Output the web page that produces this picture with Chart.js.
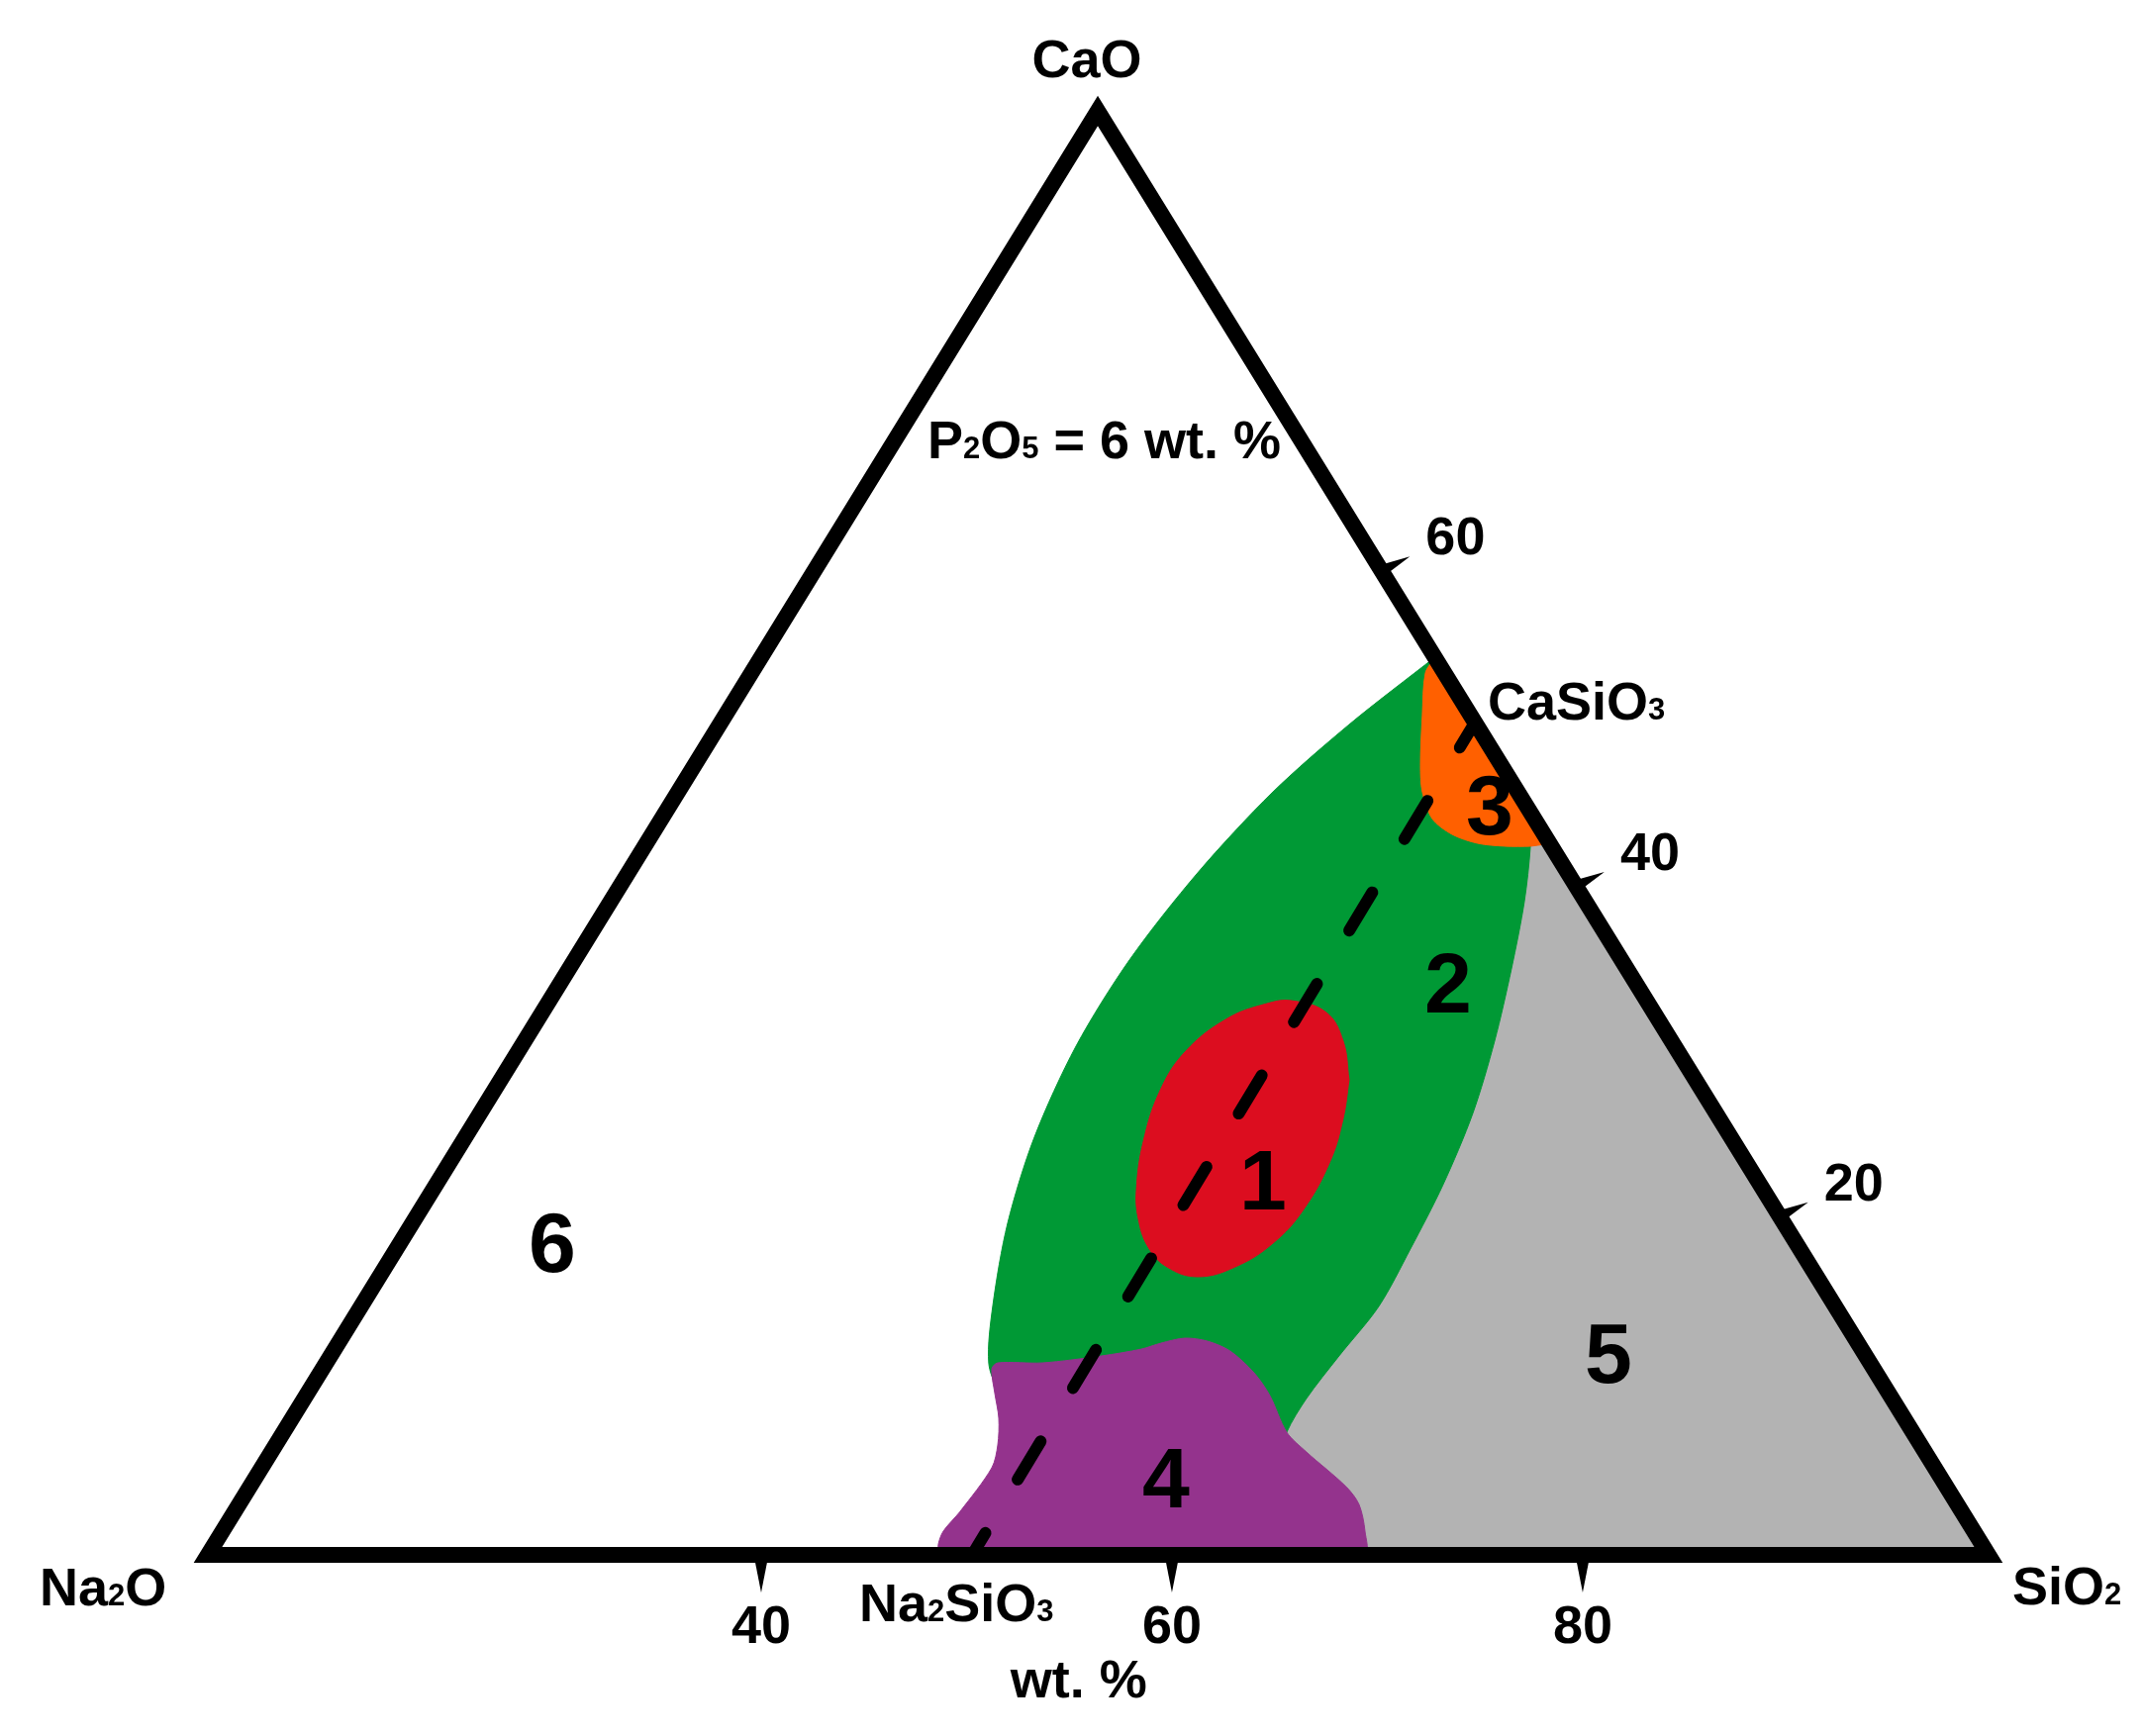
<!DOCTYPE html>
<html>
<head>
  <meta charset="utf-8" />
  <title>Na2O - CaO - SiO2, P2O5 = 6 wt. %</title>
  <style>
    body { margin: 0; background: #fff; }
  </style>
</head>
<body>
  <canvas id="stage" width="2166" height="1754"></canvas>

  <script src="https://cdn.jsdelivr.net/npm/chart.js@4.4.0/dist/chart.umd.min.js"></script>
  <script>
    // x = SiO2 scale of the bottom edge (wt. %), y = CaO (wt. %)
    const vertexNames = ['Na_2O', 'SiO_2', 'CaO'];
    const vertices = [[13.06, 0], [99.76, 0], [56.39, 87.0]];

    const bottomTicks = [40, 60, 80];
    const bottomTickLabels = ['40', '60', '80'];
    const sideTicks = [59.3, 40.3, 20.4];      // CaO along the right edge
    const sideTickLabels = ['60', '40', '20'];

    // Na2SiO3 - CaSiO3 join
    const joinLine = [[50.27, 0], [74.75, 50.15]];

    const region1 = [[68.63, 28.62], [68.34, 26.30], [67.71, 23.73], [66.41, 20.81], [64.92, 18.78],
      [63.08, 17.35], [61.25, 16.76], [59.76, 17.35], [58.84, 18.55], [58.36, 20.27], [58.27, 22.00],
      [58.60, 24.87], [59.42, 27.97], [60.67, 30.35], [62.70, 32.32], [64.58, 33.20], [65.83, 33.39],
      [67.52, 32.68], [68.34, 30.95], [68.63, 28.62]];

    const region2 = [[72.80, 54.08], [77.45, 44.78], [77.45, 42.64], [77.16, 39.36], [76.53, 35.30],
      [75.71, 30.95], [74.65, 26.60], [73.20, 22.30], [71.61, 18.43], [70.07, 14.97], [68.14, 11.99],
      [66.55, 9.42], [65.59, 7.39], [65.0, 5.0], [60.77, 8.5], [55.95, 9.5], [51.6, 10.2], [51.08, 11.57],
      [51.28, 15.03], [52.00, 19.98], [53.30, 25.16], [55.33, 30.65], [57.93, 35.84], [61.25, 41.09],
      [64.92, 45.97], [68.63, 50.03], [72.80, 54.08]];

    const region3 = [[72.80, 54.05], [72.34, 53.13], [72.19, 50.57], [72.10, 47.58], [72.19, 45.97],
      [72.67, 44.36], [73.64, 43.41], [74.89, 42.87], [76.19, 42.70], [77.49, 42.70], [78.12, 42.81],
      [78.42, 42.81], [72.80, 54.05]];

    const region4 = [[48.63, 0], [48.63, 0.66], [48.87, 1.43], [49.69, 2.62], [51.23, 5.25], [51.52, 6.62],
      [51.57, 8.23], [51.37, 9.78], [51.23, 11.21], [51.52, 11.57], [53.69, 11.57], [56.58, 11.99],
      [58.51, 12.40], [59.47, 12.76], [60.63, 13.06], [61.73, 12.88], [62.84, 12.28], [64.00, 10.97],
      [64.77, 9.60], [65.59, 7.39], [66.55, 6.20], [68.48, 4.11], [69.11, 3.04], [69.40, 1.43],
      [69.35, 0], [48.63, 0]];

    const region5 = [[78.30, 43.0], [99.76, 0], [67.0, 0], [65.0, 7.8], [72.0, 27.0], [75.5, 40.0],
      [76.0, 42.7], [78.30, 43.0]];

    const regionNames = ['1', '2', '3', '4', '5', '6'];
    const regionLabelAt = [[64.43, 20.81], [73.45, 32.68], [75.47, 43.41], [59.71, 2.86], [81.25, 10.38], [29.83, 17.05]];

    const FAMILY = '"Liberation Sans", Arial, Helvetica, sans-serif';
    const pts = arr => arr.map(p => ({x: p[0], y: p[1]}));

    function area(data, color, order, tension) {
      return {
        data: pts(data), showLine: true, fill: 'shape', order: order,
        backgroundColor: color, borderColor: color, borderWidth: 1,
        pointRadius: 0, tension: tension
      };
    }

    // triangle outline, started mid-bottom so every corner gets a miter join
    const mid = [(vertices[0][0] + vertices[1][0]) / 2, 0];
    const outline = [mid, vertices[1], vertices[2], vertices[0], mid];

    // text with subscripts, written as Na_2O
    function chemText(ctx, str, x, y, size, align) {
      const runs = str.split(/(_\d)/).filter(s => s).map(s => s[0] === '_'
        ? {t: s.slice(1), f: `bold ${Math.round(size * 0.58)}px ${FAMILY}`}
        : {t: s, f: `bold ${size}px ${FAMILY}`});
      let w = 0;
      runs.forEach(r => { ctx.font = r.f; r.w = ctx.measureText(r.t).width; w += r.w; });
      let cx = align === 'center' ? x - w / 2 : x;
      ctx.textAlign = 'left';
      ctx.textBaseline = 'alphabetic';
      runs.forEach(r => { ctx.font = r.f; ctx.fillText(r.t, cx, y); cx += r.w; });
    }

    const decor = {
      id: 'decor',
      afterDatasetsDraw(chart) {
        const {ctx} = chart;
        const sx = chart.scales.x, sy = chart.scales.y;
        const P = p => [sx.getPixelForValue(p[0]), sy.getPixelForValue(p[1])];
        ctx.save();
        ctx.fillStyle = '#000';

        // bottom ticks
        const base = sy.getPixelForValue(0);
        bottomTicks.forEach((v, i) => {
          const tx = sx.getPixelForValue(v);
          ctx.beginPath();
          ctx.moveTo(tx - 6.5, base + 5);
          ctx.lineTo(tx + 6.5, base + 5);
          ctx.lineTo(tx, base + 38);
          ctx.closePath();
          ctx.fill();
          chemText(ctx, bottomTickLabels[i], tx, base + 89, 54, 'center');
        });

        // right edge ticks
        const a = P(vertices[1]), b = P(vertices[2]);
        const len = Math.hypot(a[0] - b[0], a[1] - b[1]);
        const e = [(a[0] - b[0]) / len, (a[1] - b[1]) / len];
        const n = [e[1], -e[0]];
        sideTicks.forEach((c, i) => {
          const t = c / vertices[2][1];
          const p = P([vertices[1][0] + (vertices[2][0] - vertices[1][0]) * t, c]);
          const tip = [p[0] + n[0] * 32 + e[0] * 3, p[1] + n[1] * 32 + e[1] * 3];
          ctx.beginPath();
          ctx.moveTo(p[0] - e[0] * 6, p[1] - e[1] * 6);
          ctx.lineTo(p[0] + e[0] * 6, p[1] + e[1] * 6);
          ctx.lineTo(tip[0], tip[1]);
          ctx.closePath();
          ctx.fill();
          chemText(ctx, sideTickLabels[i], tip[0] + 16, tip[1] - 2, 54, 'left');
        });

        // vertex and compound labels
        const na = P(vertices[0]), si = P(vertices[1]), ca = P(vertices[2]);
        chemText(ctx, vertexNames[0], na[0] - 170, na[1] + 51, 54, 'left');
        chemText(ctx, vertexNames[1], si[0] + 24, si[1] + 50, 54, 'left');
        chemText(ctx, vertexNames[2], ca[0] - 11, ca[1] - 34, 54, 'center');

        const j0 = P(joinLine[0]), j1 = P(joinLine[1]);
        chemText(ctx, 'Na_2SiO_3', j0[0] - 114, j0[1] + 67, 54, 'left');
        chemText(ctx, 'CaSiO_3', j1[0] + 13, j1[1] - 3, 54, 'left');
        chemText(ctx, 'wt. %', sx.getPixelForValue(52.14), base + 144, 54, 'left');
        chemText(ctx, 'P_2O_5 = 6 wt. %', sx.getPixelForValue(48.1), sy.getPixelForValue(66.07), 54, 'left');

        // region numbers
        ctx.font = `bold 86px ${FAMILY}`;
        ctx.textAlign = 'center';
        regionNames.forEach((s, i) => {
          const p = P(regionLabelAt[i]);
          ctx.fillText(s, p[0], p[1]);
        });
        ctx.restore();
      }
    };

    new Chart(document.getElementById('stage'), {
      type: 'scatter',
      data: {
        datasets: [
          {
            data: pts(outline), showLine: true, fill: false, order: 0,
            borderColor: '#000', borderWidth: 16, borderJoinStyle: 'miter',
            borderCapStyle: 'butt', pointRadius: 0, tension: 0
          },
          {
            data: pts(joinLine), showLine: true, fill: false, order: 1,
            borderColor: '#000', borderWidth: 12, borderDash: [45, 63], borderDashOffset: 19,
            borderCapStyle: 'round', pointRadius: 0, tension: 0
          },
          area(region1, '#dc0d1f', 2, 0.4),
          area(region3, '#ff6000', 3, 0.3),
          area(region4, '#94338d', 4, 0.3),
          area(region2, '#009935', 5, 0.3),
          area(region5, '#b3b3b3', 6, 0)
        ]
      },
      options: {
        responsive: false,
        animation: false,
        devicePixelRatio: 1,
        layout: { padding: 0 },
        plugins: { legend: { display: false }, tooltip: { enabled: false } },
        scales: {
          x: { type: 'linear', display: false, bounds: 'data', min: 2.94, max: 107.33 },
          y: { type: 'linear', display: false, bounds: 'data', min: -10.91, max: 93.68 }
        }
      },
      plugins: [decor]
    });
  </script>
</body>
</html>
